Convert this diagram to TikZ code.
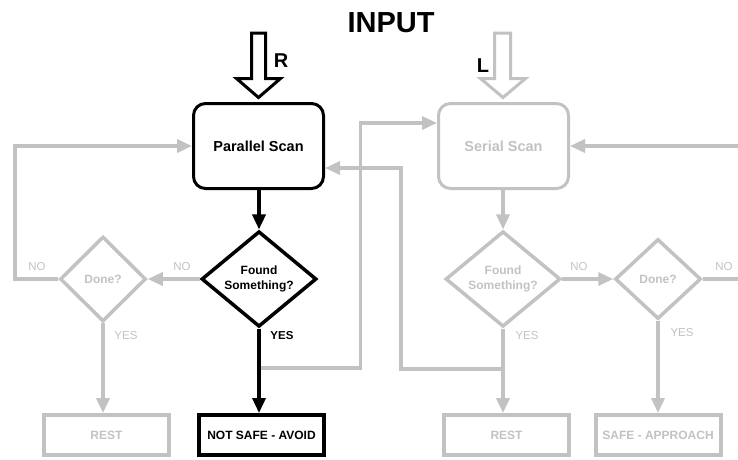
\documentclass[tikz,border=0pt]{standalone}
\usepackage{fontspec}
\setmainfont{Liberation Sans}
\usetikzlibrary{arrows.meta,shapes.geometric,calc}
\definecolor{dim}{RGB}{194,194,194}
\begin{document}
\begin{tikzpicture}[x=1pt,y=-1pt,
  scanbox/.style={draw, rounded corners=12pt, line width=3pt, minimum width=130pt,
    minimum height=85pt, inner sep=0pt, font=\bfseries\fontsize{14.5}{17}\selectfont},
  decide/.style={diamond, draw, line width=3.5pt, inner sep=0pt, align=center,
    font=\bfseries\fontsize{12}{15}\selectfont},
  endbox/.style={draw, line width=4pt, minimum width=125pt, minimum height=40pt,
    inner sep=0pt, font=\bfseries\fontsize{12}{14}\selectfont},
  flow/.style={line width=3.5pt, -{Triangle[length=15pt,width=13pt]}},
  active/.style={draw=black, text=black},
  idle/.style={draw=dim, text=dim},
  lbl/.style={inner sep=0pt, text=dim, font=\fontsize{11.5}{13}\selectfont},
  bigarrow/.style={line width=3pt, line join=miter, fill=white}]

\useasboundingbox (0,0) rectangle (738,459);
\clip (0,0) rectangle (738,459);

% title and input labels
\node[font=\bfseries\fontsize{29}{33}\selectfont] (input) at (391,22.5) {INPUT};
\node[font=\bfseries\fontsize{20}{22}\selectfont] (rlab) at (281,61) {R};
\node[font=\bfseries\fontsize{20}{22}\selectfont] (llab) at (483,66) {L};

% scanning stages
\node[scanbox, active] (ps) at (258.5,146) {Parallel Scan};
\node[scanbox, idle]   (ss) at (503.5,146) {Serial Scan};

% decisions
\node[decide, active, minimum width=115pt, minimum height=85pt] (fl) at (259,279) {Found\\Something?};
\node[decide, idle,   minimum width=115pt, minimum height=85pt] (fr) at (503,279) {Found\\Something?};
\node[decide, idle, minimum width=86pt, minimum height=85pt] (dl) at (103,279) {Done?};
\node[decide, idle, minimum width=86pt, minimum height=80pt] (dr) at (658,279) {Done?};

% outcomes
\node[endbox, idle]   (restl) at (106.5,435) {REST};
\node[endbox, active] (avoid) at (261.5,435) {NOT SAFE - AVOID};
\node[endbox, idle]   (restr) at (506.5,435) {REST};
\node[endbox, idle]   (safe)  at (658,435)   {SAFE - APPROACH};

% hollow input arrows
\begin{scope}[shift={(ps.north)}]
  \draw[bigarrow, draw=black] (-7,-69) -- (7,-69) -- (7,-23.5) -- (22,-23.5) -- (0,-4.5)
    -- (-22,-23.5) -- (-7,-23.5) -- cycle;
\end{scope}
\begin{scope}[shift={(ss.north)}]
  \draw[bigarrow, draw=dim] (-9,-69) -- (7,-69) -- (7,-23.5) -- (22,-23.5) -- (-0.5,-4.5)
    -- (-23,-23.5) -- (-9,-23.5) -- cycle;
\end{scope}

% junctions and off-page ends of the feedback paths
\coordinate (j1) at (259,368);
\coordinate (j2) at (503,369);
\coordinate (outr) at (745,279);
\coordinate (inr) at (745,146);

% inactive paths
\draw[flow, dim] (fl.west) -- (dl.east);
\draw[flow, dim] (dl.west) -- (15,279) |- (ps.west);
\draw[flow, dim] (dl.south) -- (dl.south |- restl.north);
\draw[flow, dim] (j1) -- (360.5,368) |- (ss.west |- 0,123);
\draw[flow, dim] (ss.south -| fr.north) -- (fr.north);
\draw[flow, dim] (fr.south) -- (fr.south |- restr.north);
\draw[flow, dim] (j2) -- (401,369) |- (ps.east |- 0,168);
\draw[flow, dim] (fr.east) -- (dr.west);
\draw[line width=3.5pt, dim] (dr.east) -- (outr);
\draw[flow, dim] (inr) -- (ss.east);
\draw[flow, dim] (dr.south) -- (dr.south |- safe.north);

% active path
\draw[flow, black] (ps.south -| fl.north) -- (fl.north);
\draw[flow, black] (fl.south) -- (fl.south |- avoid.north);

% branch labels
\node[lbl] (no1) at (37,267) {NO};
\node[lbl] (no2) at (182,267) {NO};
\node[lbl] (no3) at (579,267) {NO};
\node[lbl] (no4) at (724,267) {NO};
\node[lbl] (yes1) at (126,336) {YES};
\node[lbl, text=black, font=\bfseries\fontsize{11.5}{13}\selectfont] (yes2) at (282,336) {YES};
\node[lbl] (yes3) at (527,336) {YES};
\node[lbl] (yes4) at (682,333) {YES};
\end{tikzpicture}
\end{document}
